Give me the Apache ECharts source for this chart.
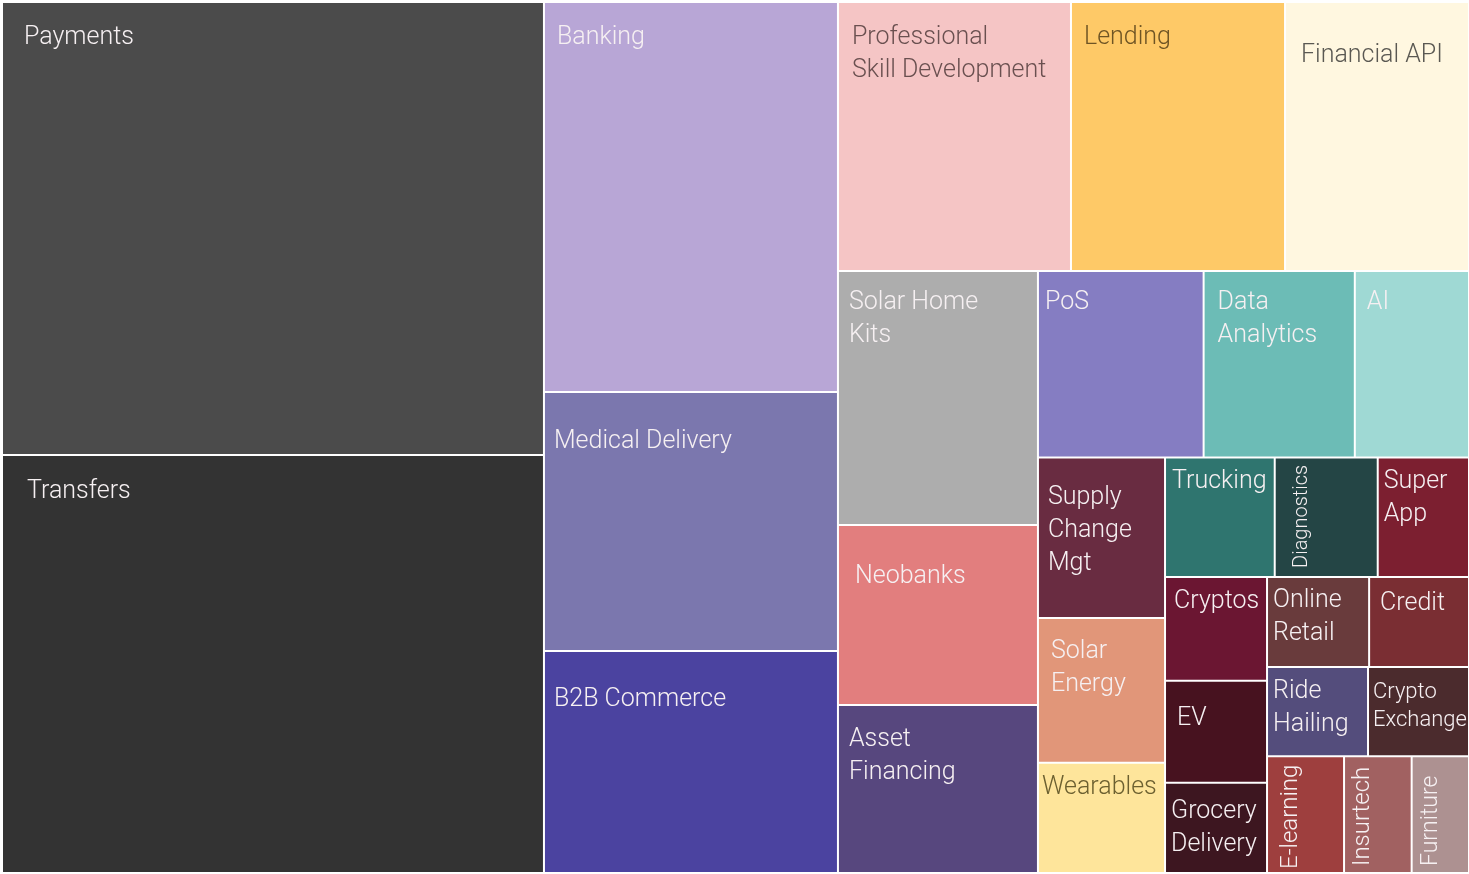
<!DOCTYPE html>
<html>
<head>
<meta charset="utf-8">
<script src="https://cdn.jsdelivr.net/npm/echarts@6/dist/echarts.min.js"></script>
<style>
  html, body { margin: 0; padding: 0; background: #fff; }
  #chart { width: 1469px; height: 874px; }
</style>
</head>
<body>
<div id="chart"></div>
<script>
// sectors, in the order the tiles are laid out
const categories = [
  'Payments', 'Transfers', 'Banking', 'Medical Delivery', 'B2B Commerce',
  'Professional Skill Development', 'Lending', 'Financial API',
  'Solar Home Kits', 'Neobanks', 'Asset Financing',
  'PoS', 'Data Analytics', 'AI',
  'Supply Change Mgt', 'Solar Energy', 'Wearables',
  'Trucking', 'Diagnostics', 'Super App',
  'Cryptos', 'EV', 'Grocery Delivery',
  'Online Retail', 'Credit', 'Ride Hailing', 'Crypto Exchange',
  'E-learning', 'Insurtech', 'Furniture'
]
const values = [
  2455, 2266, 1147, 761, 653,
  627, 576, 495,
  508, 360, 336,
  309, 282, 213,
  204, 184, 140,
  131, 123, 109,
  106, 104, 92,
  92, 90, 90, 90,
  90, 79, 67
]

const colors = [
  '#4b4b4b', '#333333', '#b8a6d6', '#7b77ae', '#4b43a0',
  '#f5c5c5', '#fec967', '#fff7e0',
  '#adadad', '#e27e7e', '#57477e',
  '#857dc2', '#6cbcb6', '#9fd9d4',
  '#692c41', '#e19679', '#fee59b',
  '#2f756f', '#244545', '#7c1f30',
  '#6b1632', '#47121f', '#3d1620',
  '#693b3c', '#7a2e33', '#544d7c', '#4b2b2d',
  '#9e3f3e', '#a16161', '#ad9191'
]

// line breaks used in the tile labels
const wrap = {
  'Professional Skill Development': 'Professional\nSkill Development',
  'Solar Home Kits': 'Solar Home\nKits',
  'Asset Financing': 'Asset\nFinancing',
  'Data Analytics': 'Data\nAnalytics',
  'Supply Change Mgt': 'Supply\nChange\nMgt',
  'Solar Energy': 'Solar\nEnergy',
  'Super App': 'Super\nApp',
  'Grocery Delivery': 'Grocery\nDelivery',
  'Online Retail': 'Online\nRetail',
  'Ride Hailing': 'Ride\nHailing',
  'Crypto Exchange': 'Crypto\nExchange'
}

// dark label text on the light tiles
const darkText = {
  'Professional Skill Development': '#6a5050',
  'Lending': '#6e5424',
  'Financial API': '#5a5852',
  'Wearables': '#6c6030'
}

// label padding [top, left] inside each tile
const pad = {
  'Payments': [18, 21], 'Transfers': [19, 24], 'Banking': [18, 12],
  'Medical Delivery': [32, 9], 'B2B Commerce': [31, 9],
  'Professional Skill Development': [18, 13], 'Lending': [18, 12],
  'Financial API': [36, 15], 'Solar Home Kits': [14, 10], 'Neobanks': [34, 16],
  'Asset Financing': [17, 10], 'PoS': [14, 6], 'Data Analytics': [14, 13],
  'AI': [14, 11], 'Supply Change Mgt': [23, 9], 'Solar Energy': [16, 12],
  'Wearables': [7, 3], 'Trucking': [7, 6], 'Super App': [7, 5],
  'Cryptos': [7, 8], 'EV': [20, 11], 'Grocery Delivery': [11, 5],
  'Online Retail': [6, 5], 'Credit': [9, 10], 'Ride Hailing': [7, 5],
  'Crypto Exchange': [10, 4]
}

// vertical labels: [fontSize, shift right, lift from bottom]
const vertical = {
  'Diagnostics': [20, 16, 8],
  'E-learning': [24, 11, 3],
  'Insurtech': [24, 6, 6],
  'Furniture': [23, 7, 6]
}

const baseLabel = {
  show: true,
  fontFamily: 'Roboto',
  fontWeight: 300,
  fontSize: 25,
  lineHeight: 33,
  color: '#f6f0f2',
  distance: 0,
  overflow: 'none'
}

const data = categories.map((name, i) => {
  let label
  if (vertical[name]) {
    const [fs, dx, lift] = vertical[name]
    label = {
      ...baseLabel,
      position: [0, '100%'],
      align: 'left',
      verticalAlign: 'top',
      rotate: 90,
      fontSize: fs,
      lineHeight: fs,
      padding: [dx, 0, 0, lift]
    }
  } else {
    const p = pad[name] || [14, 10]
    label = {
      ...baseLabel,
      position: 'insideTopLeft',
      padding: [p[0], 0, 0, p[1]],
      color: darkText[name] || baseLabel.color
    }
    if (name === 'Crypto Exchange') {
      label.fontSize = 22
      label.lineHeight = 28
    }
  }
  return {
    name,
    value: values[i],
    itemStyle: { color: colors[i], borderColor: '#ffffff', borderWidth: 1 },
    label
  }
})

const chart = echarts.init(document.getElementById('chart'))

chart.setOption({
  animation: false,
  series: [
    {
      type: 'treemap',
      left: 2,
      top: 2,
      width: 1467,
      height: 871,
      sort: false,
      squareRatio: 1,
      roam: false,
      nodeClick: false,
      breadcrumb: { show: false },
      itemStyle: { borderWidth: 0, gapWidth: 0 },
      label: {
        formatter: p => wrap[p.name] || p.name
      },
      emphasis: { disabled: true },
      data
    }
  ]
})
</script>
</body>
</html>
